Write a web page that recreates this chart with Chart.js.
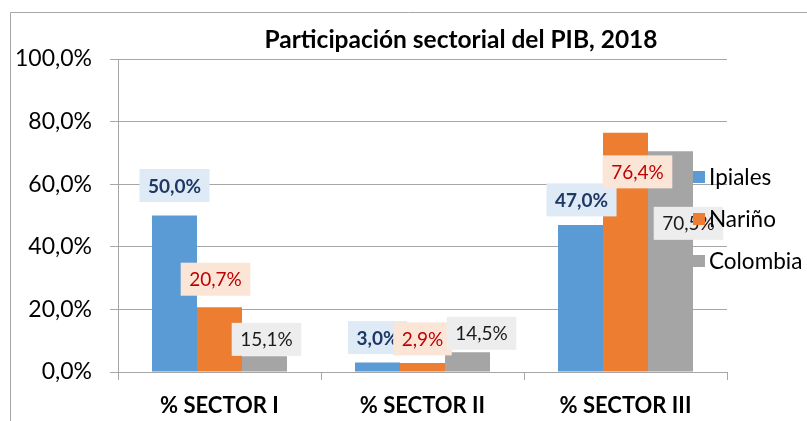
<!DOCTYPE html>
<html>
<head>
<meta charset="utf-8">
<script src="https://cdn.jsdelivr.net/npm/chart.js@4.4.1/dist/chart.umd.min.js"></script>
<style>
  body { margin: 0; background: #fff; }
  canvas { display: block; }
</style>
</head>
<body>
<canvas id="chart" width="807" height="421"></canvas>
<script>
// datos
const titulo = 'Participación sectorial del PIB, 2018';
const sectores = ['% SECTOR I', '% SECTOR II', '% SECTOR III'];
const ipiales = [50.0, 3.0, 47.0];
const narino = [20.7, 2.9, 76.4];
const colombia = [5.0, 6.3, 70.5];          // altura de barra tal como se ve
const colombiaEtiq = [15.1, 14.5, 70.5];    // texto de la etiqueta
const yTicks = [0, 20, 40, 60, 80, 100];

// etiquetas movidas a mano (px, relativo al centro/tope de la barra)
const desplaz = [
  [[0, -30], [-4, -28], [2, -17]],
  [[0, -25], [0, -24], [14, -19]],
  [[1, -25], [12, 39], [18, 72]]
];

const fuente = 'Lato, "Liberation Sans", sans-serif';
const pct = v => v.toFixed(1).replace('.', ',') + '%';

let series = [
  { label: 'Ipiales', data: ipiales, etiq: ipiales, backgroundColor: '#5b9bd5',
    fondo: '#deeaf6', texto: '#1f3864', negrita: true },
  { label: 'Nariño', data: narino, etiq: narino, backgroundColor: '#ed7d31',
    fondo: '#fbe5d6', texto: '#c00000', negrita: false },
  { label: 'Colombia', data: colombia, etiq: colombiaEtiq, backgroundColor: '#a5a5a5',
    fondo: '#ededed', texto: '#1a1a1a', negrita: false }
];

const extras = {
  id: 'extras',
  beforeDraw(chart) {
    const c = chart.ctx;
    c.save();
    c.strokeStyle = '#a6a6a6';
    c.lineWidth = 1;
    c.beginPath();
    c.moveTo(10.5, 421); c.lineTo(10.5, 12.5); c.lineTo(807, 12.5);
    c.stroke();
    c.restore();
  },
  afterDraw(chart) {
    const c = chart.ctx;
    c.save();
    // titulo
    c.fillStyle = '#000';
    c.font = 'bold 24.5px ' + fuente;
    c.textAlign = 'center';
    c.textBaseline = 'middle';
    c.fillText(titulo, 461, 40);

    // etiquetas de datos
    chart.data.datasets.forEach((ds, i) => {
      const meta = chart.getDatasetMeta(i);
      meta.data.forEach((bar, j) => {
        const t = pct(ds.etiq[j]);
        c.font = (ds.negrita ? 'bold ' : '') + '19px ' + fuente;
        const w = c.measureText(t).width + 17;
        const h = 33;
        const cx = bar.x + desplaz[j][i][0];
        const cy = bar.y + desplaz[j][i][1];
        c.fillStyle = ds.fondo;
        c.fillRect(cx - w / 2, cy - h / 2, w, h);
        c.fillStyle = ds.texto;
        c.fillText(t, cx, cy + 1);
      });
    });

    // leyenda
    c.textAlign = 'left';
    c.font = '22.5px ' + fuente;
    chart.data.datasets.forEach((ds, i) => {
      const y = 177 + i * 42;
      c.fillStyle = ds.backgroundColor;
      c.fillRect(693, y - 6, 12, 12);
      c.fillStyle = '#000';
      c.fillText(ds.label, 709, y + 1);
    });
    c.restore();
  }
};

new Chart(document.getElementById('chart'), {
  type: 'bar',
  data: { labels: sectores, datasets: series },
  plugins: [extras],
  options: {
    responsive: false,
    animation: false,
    devicePixelRatio: 1,
    layout: { padding: { top: 59, right: 80, left: 0, bottom: 0 } },
    datasets: { bar: { categoryPercentage: 0.665, barPercentage: 1 } },
    plugins: { legend: { display: false }, title: { display: false }, tooltip: { enabled: false } },
    scales: {
      x: {
        grid: { offset: true, drawOnChartArea: false, color: '#a6a6a6', tickLength: 8 },
        border: { color: '#a6a6a6' },
        ticks: { color: '#000', font: { family: fuente, size: 22, weight: 'bold' }, padding: 13 },
        afterFit(s) { s.height = 49; }
      },
      y: {
        min: 0, max: 100,
        afterBuildTicks(s) { s.ticks = yTicks.map(v => ({ value: v })); },
        grid: { color: '#a6a6a6', tickLength: 8 },
        border: { color: '#a6a6a6' },
        ticks: { color: '#000', font: { family: fuente, size: 23 }, padding: 18, callback: v => pct(v) },
        afterFit(s) { s.width = 118; }
      }
    }
  }
});
</script>
</body>
</html>
